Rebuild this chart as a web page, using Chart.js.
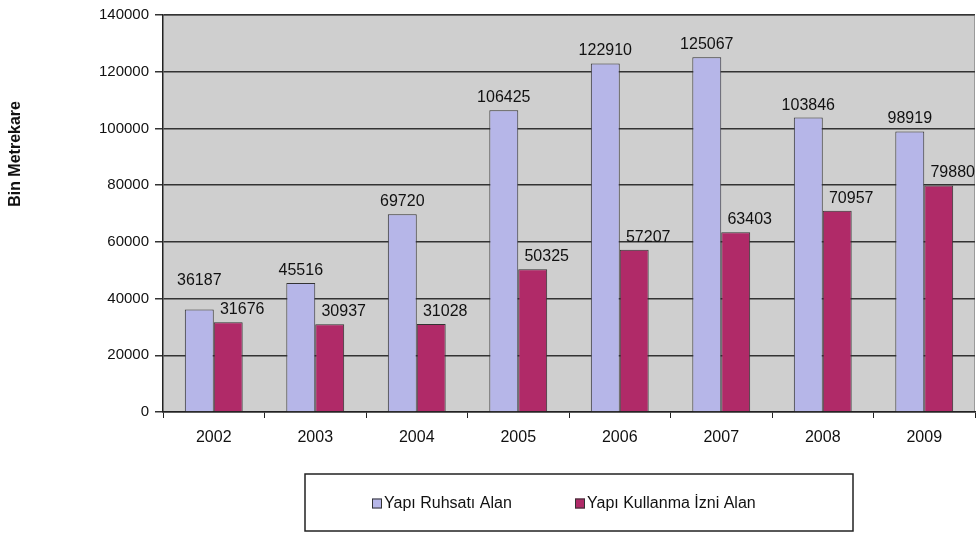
<!DOCTYPE html>
<html>
<head>
<meta charset="utf-8">
<script src="https://cdn.jsdelivr.net/npm/chart.js@4.4.0/dist/chart.umd.min.js"></script>
<style>
  html, body { margin: 0; padding: 0; background: #fff; }
  #wrap { width: 977px; height: 536px; }
</style>
</head>
<body>
<div id="wrap"><canvas id="myChart" width="977" height="536"></canvas></div>
<script>
const years = ['2002', '2003', '2004', '2005', '2006', '2007', '2008', '2009'];
const ruhsat = [36187, 45516, 69720, 106425, 122910, 125067, 103846, 98919];
const kullanma = [31676, 30937, 31028, 50325, 57207, 63403, 70957, 79880];
const seriesNames = ['Yapı Ruhsatı Alan', 'Yapı Kullanma İzni Alan'];
const yTitle = 'Bin Metrekare';

const FONT = '"Liberation Sans", Arial, sans-serif';

// gray plot background + data labels + y title + legend box
const decor = {
    id: 'decor',
    beforeDraw(chart) {
        const { ctx, chartArea: a } = chart;
        ctx.save();
        ctx.fillStyle = '#cfcfcf';
        ctx.fillRect(a.left, a.top, a.right - a.left, a.bottom - a.top);
        ctx.strokeStyle = '#9a9a9a';
        ctx.lineWidth = 1;
        ctx.beginPath();
        ctx.moveTo(a.left, a.top + 0.5);
        ctx.lineTo(a.right - 0.5, a.top + 0.5);
        ctx.lineTo(a.right - 0.5, a.bottom);
        ctx.stroke();
        ctx.restore();
    },
    afterDatasetsDraw(chart) {
        const { ctx, chartArea: a } = chart;
        ctx.save();
        ctx.fillStyle = '#111';
        ctx.font = '16px ' + FONT;
        ctx.textAlign = 'center';
        ctx.textBaseline = 'alphabetic';
        const m1 = chart.getDatasetMeta(0).data;
        const m2 = chart.getDatasetMeta(1).data;
        years.forEach((y, j) => {
            // second series label sits a bit to the right, like the original
            const x2 = m2[j].x + 14, y2 = m2[j].y - 8;
            let x1 = m1[j].x, y1 = m1[j].y - 8;
            const w1 = ctx.measureText(String(ruhsat[j])).width;
            const w2 = ctx.measureText(String(kullanma[j])).width;
            const overlapX = (x1 + w1 / 2) > (x2 - w2 / 2);
            if (overlapX && y1 > y2 - 16) y1 = y2 - 29;
            ctx.fillText(String(ruhsat[j]), x1, y1);
            ctx.fillText(String(kullanma[j]), x2, y2);
        });

        // y axis title
        ctx.font = 'bold 16px ' + FONT;
        ctx.textBaseline = 'middle';
        ctx.translate(16, a.top + (a.bottom - a.top) * 0.35);
        ctx.rotate(-Math.PI / 2);
        ctx.fillText(yTitle, 0, 0);
        ctx.restore();

        // legend
        ctx.save();
        const lx = 305, ly = 474, lw = 548, lh = 57;
        ctx.fillStyle = '#fff';
        ctx.fillRect(lx, ly, lw, lh);
        ctx.strokeStyle = '#222';
        ctx.lineWidth = 1.5;
        ctx.strokeRect(lx, ly, lw, lh);
        ctx.font = '16px ' + FONT;
        ctx.textAlign = 'left';
        ctx.textBaseline = 'middle';
        const cy = ly + lh / 2 + 1;
        const itemX = [372, 575];
        chart.data.datasets.forEach((ds, i) => {
            ctx.fillStyle = ds.backgroundColor;
            ctx.fillRect(itemX[i], cy - 5, 10, 10);
            ctx.strokeStyle = '#333';
            ctx.lineWidth = 1;
            ctx.strokeRect(itemX[i] + 0.5, cy - 4.5, 9, 9);
            ctx.fillStyle = '#111';
            ctx.fillText(ds.label, itemX[i] + 12, cy);
        });
        ctx.restore();
    }
};

const data = {
    labels: years,
    datasets: [{
        label: seriesNames[0],
        backgroundColor: 'rgb(182, 182, 232)',
        borderColor: '#333',
        borderWidth: 1,
        data: ruhsat,
    }, {
        label: seriesNames[1],
        backgroundColor: 'rgb(176, 42, 104)',
        borderColor: '#333',
        borderWidth: 1,
        data: kullanma,
    }]
};

const config = {
    type: 'bar',
    data,
    plugins: [decor],
    options: {
        responsive: false,
        animation: false,
        layout: { padding: { top: 2, right: 2, bottom: 62, left: 0 } },
        datasets: { bar: { barPercentage: 1, categoryPercentage: 0.57 } },
        plugins: {
            legend: { display: false },
            tooltip: { enabled: false }
        },
        scales: {
            x: {
                grid: { drawOnChartArea: false, drawTicks: true, tickLength: 6, color: '#222', offset: true },
                border: { color: '#222', width: 1.5 },
                ticks: { color: '#111', font: { family: FONT, size: 16 }, padding: 10 },
                afterFit(scale) { scale.height = 62; }
            },
            y: {
                min: 0,
                max: 140000,
                grid: { color: '#333', lineWidth: 1.5, tickLength: 8 },
                border: { color: '#222', width: 1.5 },
                ticks: {
                    stepSize: 20000, color: '#111', font: { family: FONT, size: 15 }, padding: 6,
                    callback: (v) => String(v)
                },
                afterFit(scale) { scale.width = 163; }
            }
        }
    }
};

new Chart(document.getElementById('myChart'), config);
</script>
</body>
</html>
